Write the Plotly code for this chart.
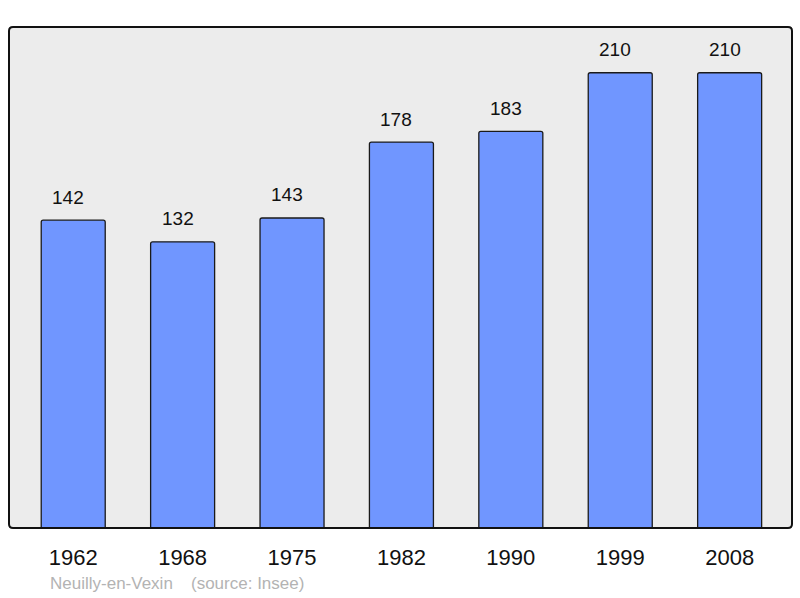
import plotly.graph_objects as go

years = ["1962", "1968", "1975", "1982", "1990", "1999", "2008"]
population = [142, 132, 143, 178, 183, 210, 210]
commune = "Neuilly-en-Vexin"
source = "(source: Insee)"

W, H = 800, 598
L, R, T, B = 9, 8, 27, 70
pw, ph = W - L - R, H - T - B
FONT = "Liberation Sans, Arial"

fig = go.Figure()
fig.add_trace(go.Bar(
    x=years, y=population, width=0.585,
    marker=dict(color="#7096ff", line=dict(color="#1a1a1a", width=1.3), cornerradius=2),
    hoverinfo="skip",
))

for i, v in enumerate(population):
    fig.add_annotation(x=i, y=v, text=str(v), showarrow=False, xref="x", yref="y",
                       yanchor="middle", yshift=23, xshift=-5,
                       font=dict(family=FONT, size=19, color="#111"))

src_y = -(583 - (H - B)) / ph
fig.add_annotation(x=(48 - L) / pw, y=src_y, xref="paper", yref="paper",
                   text=commune, showarrow=False, xanchor="left", yanchor="middle",
                   font=dict(family=FONT, size=17, color="#b3b3b3"))
fig.add_annotation(x=(189 - L) / pw, y=src_y, xref="paper", yref="paper",
                   text=source, showarrow=False, xanchor="left", yanchor="middle",
                   font=dict(family=FONT, size=17, color="#b3b3b3"))

# rounded frame around plot area in paper coords
rx, ry = 4 / pw, 4 / ph
path = (f"M {rx},0 L {1-rx},0 Q 1,0 1,{ry} L 1,{1-ry} Q 1,1 {1-rx},1 "
        f"L {rx},1 Q 0,1 0,{1-ry} L 0,{ry} Q 0,0 {rx},0 Z")
fig.add_shape(type="path", path=path, xref="paper", yref="paper",
              line=dict(color="#111", width=2), layer="above")

fig.update_layout(
    width=W, height=H,
    margin=dict(l=L, r=R, t=T, b=B),
    paper_bgcolor="white", plot_bgcolor="#ececec",
    showlegend=False,
    xaxis=dict(type="category", range=[-0.587, 6.57], showgrid=False, zeroline=False,
               showline=False, ticks="outside", ticklen=10, tickcolor="rgba(0,0,0,0)",
               tickfont=dict(family=FONT, size=22, color="#111"),
               fixedrange=True),
    yaxis=dict(range=[0, 231.1], showgrid=False, zeroline=False, showticklabels=False,
               showline=False, fixedrange=True),
)

fig.write_html("out.html", config={"displayModeBar": False},
               post_script="document.body.style.margin='0';document.body.style.overflow='hidden';")
